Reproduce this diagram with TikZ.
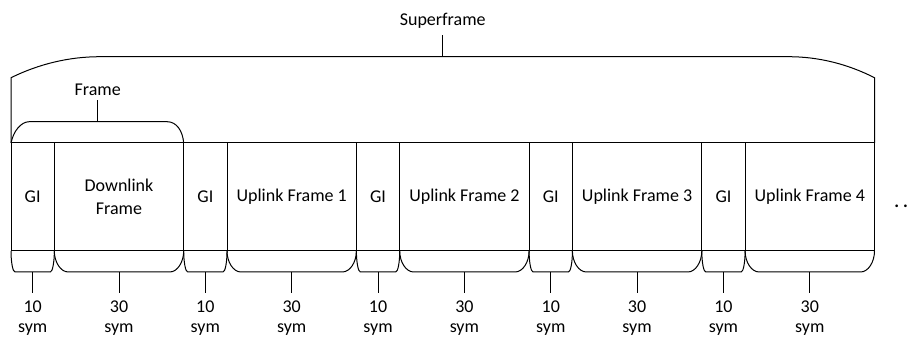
\documentclass[tikz,border=0pt]{standalone}
\usepackage{fontspec}
\setmainfont{Carlito}
\usetikzlibrary{calc}
\tikzset{
  line/.style={draw=black, line width=0.75pt},
  gicell/.style={line, anchor=north west, inner sep=0pt, outer sep=0pt,
    minimum width=32.5pt, minimum height=81pt, align=center},
  frcell/.style={line, anchor=north west, inner sep=0pt, outer sep=0pt,
    minimum width=97.05pt, minimum height=81pt, align=center},
  lbl/.style={anchor=base, inner sep=0pt},
}
\newcommand\lowbrace[2]{%
  \draw[line] (#1.south west) .. controls ($(#1.south west)+(0,11)$) and ($(#1.south west)+(0.45*#2,21)$) .. ($(#1.south west)+(#2,21)$)
    -- ($(#1.south east)+(-#2,21)$) .. controls ($(#1.south east)+(-0.45*#2,21)$) and ($(#1.south east)+(0,11)$) .. (#1.south east);
  \coordinate (#1b) at ($(#1.south)+(0,21)$);
  \coordinate (#1t) at ($(#1.south)+(0,42)$);
  \draw[line] (#1b) -- (#1t);
}
\begin{document}
\begin{tikzpicture}[x=0.75pt,y=-0.75pt]
\fontsize{13.5}{17}\selectfont
\useasboundingbox (0,0) rectangle (914,338);
% cells
\node[gicell] (g0) at (11,143) {GI};
\node[frcell] (f0) at (54.3,143) {Downlink\\Frame};
\node[gicell] (g1) at (183.7,143) {GI};
\node[frcell] (f1) at (227,143) {Uplink Frame 1};
\node[gicell] (g2) at (356.4,143) {GI};
\node[frcell] (f2) at (399.7,143) {Uplink Frame 2};
\node[gicell] (g3) at (529.1,143) {GI};
\node[frcell] (f3) at (572.4,143) {Uplink Frame 3};
\node[gicell] (g4) at (701.8,143) {GI};
\node[frcell] (f4) at (745.1,143) {Uplink Frame 4};
% braces below
\foreach \n in {g0,g1,g2,g3,g4}{
  \lowbrace{\n}{4}
  \node[lbl] (\n n) at ($(\n t)+(0,19.5)$) {10};
  \node[lbl] (\n s) at ($(\n t)+(0,39.5)$) {sym};
}
\foreach \n in {f0,f1,f2,f3,f4}{
  \lowbrace{\n}{14}
  \node[lbl] (\n n) at ($(\n t)+(0,19.5)$) {30};
  \node[lbl] (\n s) at ($(\n t)+(0,39.5)$) {sym};
}
% frame brace
\coordinate (frtop) at (97.7,121.7);
\draw[line] (g0.north west) .. controls ($(g0.north west)+(2.5,-12)$) and ($(g0.north west)+(10,-21.3)$) .. ($(g0.north west)+(18.3,-21.3)$)
  -- ($(f0.north east)+(-16.6,-21.3)$) .. controls ($(f0.north east)+(-7,-21.3)$) and ($(f0.north east)+(-1,-12)$) .. (f0.north east);
\coordinate (frtick) at (97.7,100);
\draw[line] (frtop) -- (frtick);
\node[lbl] (frlbl) at (97.7,96) {Frame};
% superframe brace
\coordinate (sftop) at (442.7,56.7);
\coordinate (sftick) at (442.7,35);
\draw[line] (g0.north west) -- ($(g0.north west)+(0,-65.3)$) .. controls ($(g0.north west)+(28,-79)$) and ($(g0.north west)+(58,-86.3)$) .. ($(g0.north west)+(89,-86.3)$)
  -- ($(f4.north east)+(-86,-86.3)$) .. controls ($(f4.north east)+(-56,-86.3)$) and ($(f4.north east)+(-27,-79)$) .. ($(f4.north east)+(0,-65.3)$) -- (f4.north east);
\draw[line] (sftop) -- (sftick);
\node[lbl] (sflbl) at (442.7,26) {Superframe};
% continuation dots
\node[anchor=base west, inner sep=0pt] (dots) at (894,208) {\bfseries .\kern3pt.};
\end{tikzpicture}
\end{document}
